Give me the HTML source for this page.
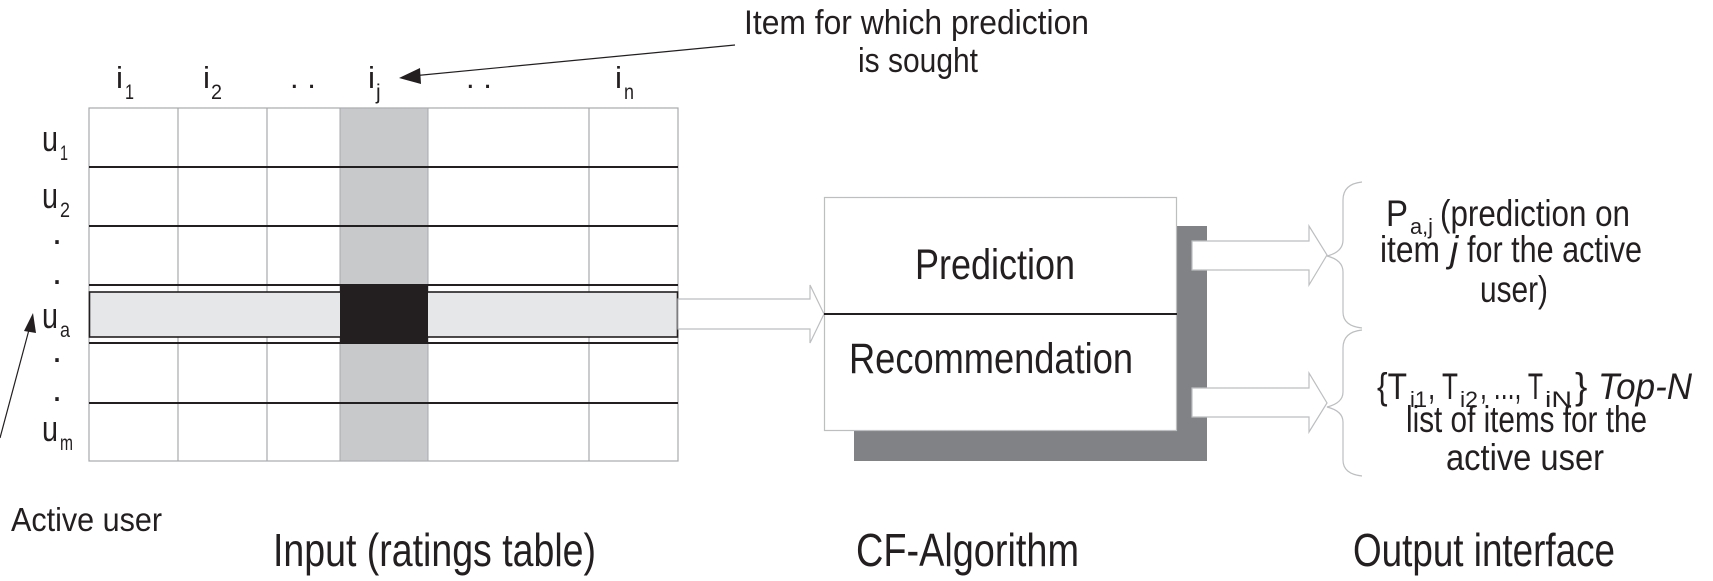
<!DOCTYPE html>
<html><head><meta charset="utf-8"><style>
html,body{margin:0;padding:0;background:#fff;}
svg{display:block;font-family:"Liberation Sans",Arial,sans-serif;fill:#231f20;}
</style></head><body>
<svg width="1713" height="581" viewBox="0 0 1713 581" xmlns="http://www.w3.org/2000/svg">
<!-- top note -->
<text x="744" y="34" font-size="34" textLength="345" lengthAdjust="spacingAndGlyphs">Item for which prediction</text>
<text x="858" y="72" font-size="34" textLength="120" lengthAdjust="spacingAndGlyphs">is sought</text>
<line x1="735" y1="45" x2="412" y2="76" stroke="#231f20" stroke-width="1.2"/>
<polygon points="399,78 420,68 421,84" fill="#231f20"/>

<!-- column labels -->
<g font-size="31">
<text x="116" y="88" textLength="7" lengthAdjust="spacingAndGlyphs">i</text><text x="125" y="99" font-size="21" textLength="9" lengthAdjust="spacingAndGlyphs">1</text>
<text x="203" y="88" textLength="7" lengthAdjust="spacingAndGlyphs">i</text><text x="211" y="99" font-size="21" textLength="11" lengthAdjust="spacingAndGlyphs">2</text>
<text x="290" y="88">. .</text>
<text x="368" y="88" textLength="7" lengthAdjust="spacingAndGlyphs">i</text><text x="376" y="99" font-size="21">j</text>
<text x="466" y="88">. .</text>
<text x="615" y="88" textLength="7" lengthAdjust="spacingAndGlyphs">i</text><text x="624" y="99" font-size="21" textLength="10" lengthAdjust="spacingAndGlyphs">n</text>
</g>

<!-- grid -->
<rect x="89" y="108" width="589" height="353" fill="#fff" stroke="#a7a9ac" stroke-width="1.2"/>
<rect x="340" y="108" width="88" height="353" fill="#c8c9cb" stroke="#a7a9ac" stroke-width="1"/>
<g stroke="#a7a9ac" stroke-width="1.2">
<line x1="178" y1="108" x2="178" y2="461"/>
<line x1="267" y1="108" x2="267" y2="461"/>
<line x1="589" y1="108" x2="589" y2="461"/>
</g>
<g stroke="#231f20" stroke-width="2">
<line x1="89" y1="167" x2="678" y2="167"/>
<line x1="89" y1="226" x2="678" y2="226"/>
<line x1="89" y1="285" x2="678" y2="285"/>
<line x1="89" y1="343" x2="678" y2="343"/>
<line x1="89" y1="403" x2="678" y2="403"/>
</g>
<rect x="89.5" y="292" width="588" height="45" fill="#e6e7e8" stroke="#231f20" stroke-width="1.6"/>
<rect x="340" y="285" width="88" height="58" fill="#231f20"/>

<!-- row labels -->
<g font-size="36">
<text x="42" y="151" textLength="16" lengthAdjust="spacingAndGlyphs">u</text><text x="60" y="160" font-size="21" textLength="8" lengthAdjust="spacingAndGlyphs">1</text>
<text x="42" y="208" textLength="16" lengthAdjust="spacingAndGlyphs">u</text><text x="60" y="217" font-size="21" textLength="10" lengthAdjust="spacingAndGlyphs">2</text>
<text x="52" y="244">.</text>
<text x="52" y="284">.</text>
<text x="42" y="328" textLength="16" lengthAdjust="spacingAndGlyphs">u</text><text x="60" y="337" font-size="21" textLength="10" lengthAdjust="spacingAndGlyphs">a</text>
<text x="52" y="362">.</text>
<text x="52" y="401">.</text>
<text x="42" y="441" textLength="16" lengthAdjust="spacingAndGlyphs">u</text><text x="60" y="450" font-size="21" textLength="13" lengthAdjust="spacingAndGlyphs">m</text>
</g>

<!-- active user arrow -->
<line x1="0" y1="438" x2="30" y2="326" stroke="#231f20" stroke-width="1.2"/>
<polygon points="33,313 24,331 36,333" fill="#231f20"/>
<text x="11" y="531" font-size="33" textLength="151" lengthAdjust="spacingAndGlyphs">Active user</text>

<!-- input arrow -->
<polygon points="678,299 810,299 810,285 824,314 810,343 810,329 678,329" fill="#fff" stroke="#bcbec0" stroke-width="1.2"/>

<!-- CF box -->
<rect x="854" y="226" width="353" height="235" fill="#808285"/>
<rect x="824.5" y="197.5" width="352" height="233" fill="#fff" stroke="#bcbec0" stroke-width="1.2"/>
<line x1="824" y1="314" x2="1177" y2="314" stroke="#231f20" stroke-width="2"/>
<text x="915" y="279" font-size="43" textLength="160" lengthAdjust="spacingAndGlyphs">Prediction</text>
<text x="849" y="373" font-size="43" textLength="284" lengthAdjust="spacingAndGlyphs">Recommendation</text>

<!-- output arrows -->
<polygon points="1192,241 1309,241 1309,226 1327,255 1309,285 1309,270 1192,270" fill="#fff" stroke="#bcbec0" stroke-width="1.2"/>
<polygon points="1192,388 1309,388 1309,373 1327,403 1309,432 1309,417 1192,417" fill="#fff" stroke="#bcbec0" stroke-width="1.2"/>

<!-- braces -->
<path d="M1362,182 Q1343,184 1343,200 L1343,240 Q1343,252 1327,256 Q1343,260 1343,272 L1343,312 Q1343,326 1362,328" fill="none" stroke="#bcbec0" stroke-width="1.2"/>
<path d="M1362,330 Q1343,332 1343,348 L1343,392 Q1343,403 1327,407 Q1343,411 1343,422 L1343,460 Q1343,474 1362,476" fill="none" stroke="#bcbec0" stroke-width="1.2"/>

<!-- output text -->
<g font-size="37">
<text x="1386" y="226" textLength="22" lengthAdjust="spacingAndGlyphs">P</text>
<text x="1410" y="234" font-size="22" textLength="23" lengthAdjust="spacingAndGlyphs">a,j</text>
<text x="1440" y="226" textLength="190" lengthAdjust="spacingAndGlyphs">(prediction on</text>
<text x="1380" y="262" textLength="60" lengthAdjust="spacingAndGlyphs">item</text>
<text x="1450" y="262" font-style="italic">j</text>
<text x="1467" y="262" textLength="175" lengthAdjust="spacingAndGlyphs">for the active</text>
<text x="1480" y="302" textLength="68" lengthAdjust="spacingAndGlyphs">user)</text>

<text x="1377" y="399" textLength="30" lengthAdjust="spacingAndGlyphs">{T</text>
<text x="1410" y="407" font-size="22" textLength="17" lengthAdjust="spacingAndGlyphs">i1</text>
<text x="1428" y="399" textLength="30" lengthAdjust="spacingAndGlyphs">, T</text>
<text x="1460" y="407" font-size="22" textLength="18" lengthAdjust="spacingAndGlyphs">i2</text>
<text x="1480" y="399" textLength="63" lengthAdjust="spacingAndGlyphs">, ..., T</text>
<text x="1545" y="407" font-size="22" textLength="27" lengthAdjust="spacingAndGlyphs">iN</text>
<text x="1575" y="399">}</text>
<text x="1598" y="399" font-style="italic" textLength="94" lengthAdjust="spacingAndGlyphs">Top-N</text>
<text x="1406" y="432" textLength="241" lengthAdjust="spacingAndGlyphs">list of items for the</text>
<text x="1446" y="470" textLength="158" lengthAdjust="spacingAndGlyphs">active user</text>
</g>

<!-- bottom labels -->
<g font-size="46">
<text x="273" y="566" textLength="323" lengthAdjust="spacingAndGlyphs">Input (ratings table)</text>
<text x="856" y="566" textLength="223" lengthAdjust="spacingAndGlyphs">CF-Algorithm</text>
<text x="1353" y="566" textLength="262" lengthAdjust="spacingAndGlyphs">Output interface</text>
</g>
</svg>
</body></html>
